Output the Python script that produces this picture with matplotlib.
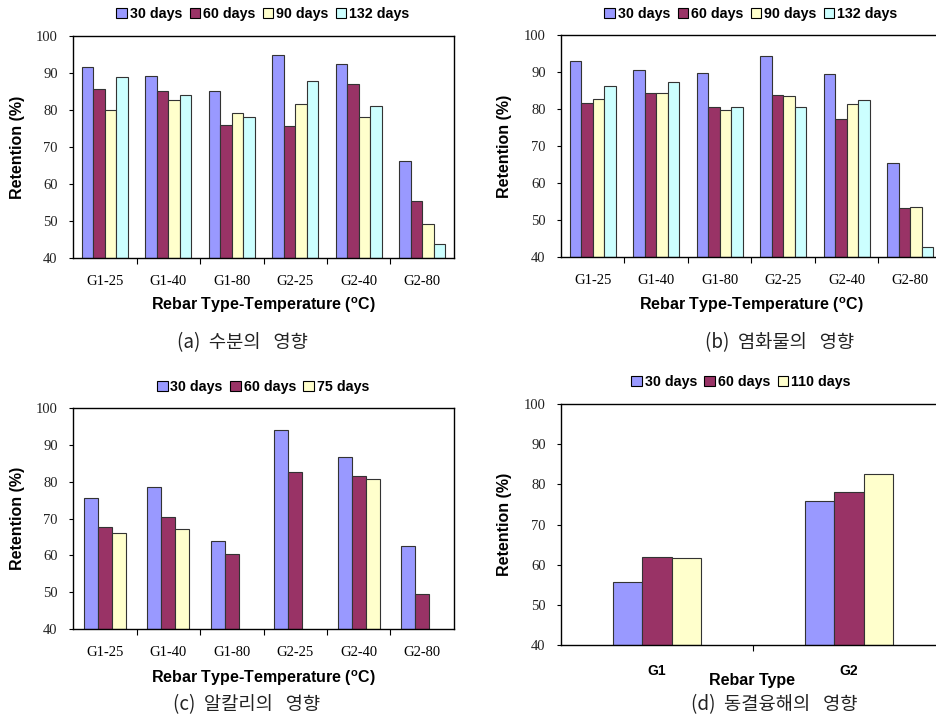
import numpy as np
import matplotlib
matplotlib.use('Agg')
import matplotlib.pyplot as plt
from matplotlib.patches import Patch

# Retention (%) of rebar tensile strength by exposure
cats_t = ['G1-25', 'G1-40', 'G1-80', 'G2-25', 'G2-40', 'G2-80']
cats_d = ['G1', 'G2']

labels_4 = ['30 days', '60 days', '90 days', '132 days']
labels_c = ['30 days', '60 days', '75 days']
labels_d = ['30 days', '60 days', '110 days']

# (a) moisture
water_30 = [91.6, 89.2, 85.1, 94.8, 92.3, 66.3]
water_60 = [85.8, 85.1, 76.0, 75.8, 87.1, 55.3]
water_90 = [79.9, 82.8, 79.3, 81.7, 78.2, 49.1]
water_132 = [88.9, 84.0, 78.2, 87.9, 81.1, 43.9]

# (b) chloride
chlor_30 = [92.9, 90.5, 89.7, 94.3, 89.5, 65.3]
chlor_60 = [81.6, 84.2, 80.6, 83.9, 77.2, 53.3]
chlor_90 = [82.6, 84.2, 79.8, 83.4, 81.4, 53.5]
chlor_132 = [86.2, 87.4, 80.6, 80.6, 82.3, 42.6]

# (c) alkali
alk_30 = [75.6, 78.5, 64.0, 93.9, 86.7, 62.4]
alk_60 = [67.8, 70.4, 60.4, 82.7, 81.6, 49.5]
alk_75 = [66.0, 67.1, np.nan, np.nan, 80.6, np.nan]

# (d) freeze-thaw
ft_30 = [55.6, 75.8]
ft_60 = [61.8, 78.2]
ft_110 = [61.6, 82.5]

colors = ['#9999FF', '#993366', '#FFFFCC', '#CCFFFF']

W, H = 937, 717
fig = plt.figure(figsize=(W / 100, H / 100), dpi=100, facecolor='white')
plt.rcParams['mathtext.fontset'] = 'custom'
plt.rcParams['mathtext.bf'] = 'Liberation Sans:bold'
plt.rcParams['mathtext.rm'] = 'Liberation Sans:bold'

serif = 'Liberation Serif'
sans = 'Liberation Sans'
kr = ['Noto Sans CJK KR', 'DejaVu Sans']


def px_axes(l, t, r, b):
    return fig.add_axes([l / W, 1 - b / H, (r - l) / W, (b - t) / H])


def ftext(x, y, s, **kw):
    fig.text(x / W, 1 - y / H, s, ha='center', va='center', **kw)


def bar_panel(box, cats, series, labels, group, leg_xy, tick_bold=False):
    ax = px_axes(*box)
    n = len(series)
    w = group / n
    x = np.arange(len(cats))
    for i, vals in enumerate(series):
        ax.bar(x - group / 2 + w * (i + 0.5), np.array(vals) - 40, width=w,
               bottom=40, color=colors[i], edgecolor='#333333', linewidth=0.8)
    ax.set_xlim(-0.5, len(cats) - 0.5)
    ax.set_ylim(40, 100)
    ax.set_yticks(range(40, 101, 10))
    ax.set_xticks(x)
    if tick_bold:
        ax.set_xticklabels(cats, fontfamily=sans, fontweight='bold', fontsize=10)
        ax.tick_params(axis='x', which='major', length=0, pad=14)
    else:
        ax.set_xticklabels(cats, fontfamily=serif, fontsize=10.5)
        ax.tick_params(axis='x', which='major', length=0, pad=12)
    ax.set_xticks(np.arange(0.5, len(cats) - 0.5, 1), minor=True)
    ax.tick_params(axis='x', which='minor', length=4, width=0.8, direction='out')
    ax.tick_params(axis='y', length=3, width=0.8, pad=8)
    for lab in ax.get_yticklabels():
        lab.set_fontfamily(serif)
        lab.set_fontsize(10.5)
        lab.set_color('#222222')
    for sp in ax.spines.values():
        sp.set_linewidth(1.0)
        sp.set_color('black')
    handles = [Patch(facecolor=colors[i], edgecolor='black', linewidth=0.8)
               for i in range(n)]
    ax.legend(handles, labels, loc='center', ncol=n, frameon=False,
              bbox_to_anchor=(leg_xy[0] / W, 1 - leg_xy[1] / H),
              bbox_transform=fig.transFigure,
              handlelength=0.75, handleheight=0.75, handletextpad=0.2,
              columnspacing=0.5, borderpad=0,
              prop={'family': sans, 'weight': 'bold', 'size': 10.3})
    return ax


xlab_t = r'Rebar Type-Temperature ($^{\mathbf{o}}$C)'
lab_kw = dict(fontfamily=sans, fontweight='bold', fontsize=11.5)
cap_kw = dict(fontfamily=kr, fontsize=13.5, color='#222222')

# (a)
bar_panel((73, 36, 454, 258), cats_t,
          [water_30, water_60, water_90, water_132], labels_4, 0.727, (263, 14))
ftext(18, 147, 'Retention (%)', rotation=90, **lab_kw)
ftext(263, 305, xlab_t, **lab_kw)
ftext(242, 343, '(a)  수분의   영향', **cap_kw)

# (b)
bar_panel((561, 35, 942, 257), cats_t,
          [chlor_30, chlor_60, chlor_90, chlor_132], labels_4, 0.727, (751, 14))
ftext(505, 146, 'Retention (%)', rotation=90, **lab_kw)
ftext(751, 305, xlab_t, **lab_kw)
ftext(780, 343, '(b)  염화물의   영향', **cap_kw)

# (c)
bar_panel((73, 408, 454, 629), cats_t,
          [alk_30, alk_60, alk_75], labels_c, 0.667, (263, 387))
ftext(18, 518, 'Retention (%)', rotation=90, **lab_kw)
ftext(263, 678, xlab_t, **lab_kw)
ftext(247, 705, '(c)  알칼리의   영향', **cap_kw)

# (d)
bar_panel((561, 404, 945, 645), cats_d,
          [ft_30, ft_60, ft_110], labels_d, 0.4635, (741, 382), tick_bold=True)
ftext(505, 524, 'Retention (%)', rotation=90, **lab_kw)
ftext(752, 680, 'Rebar Type', **lab_kw)
ftext(774, 705, '(d)  동결융해의   영향', **cap_kw)

fig.savefig('out.png', dpi=100)
